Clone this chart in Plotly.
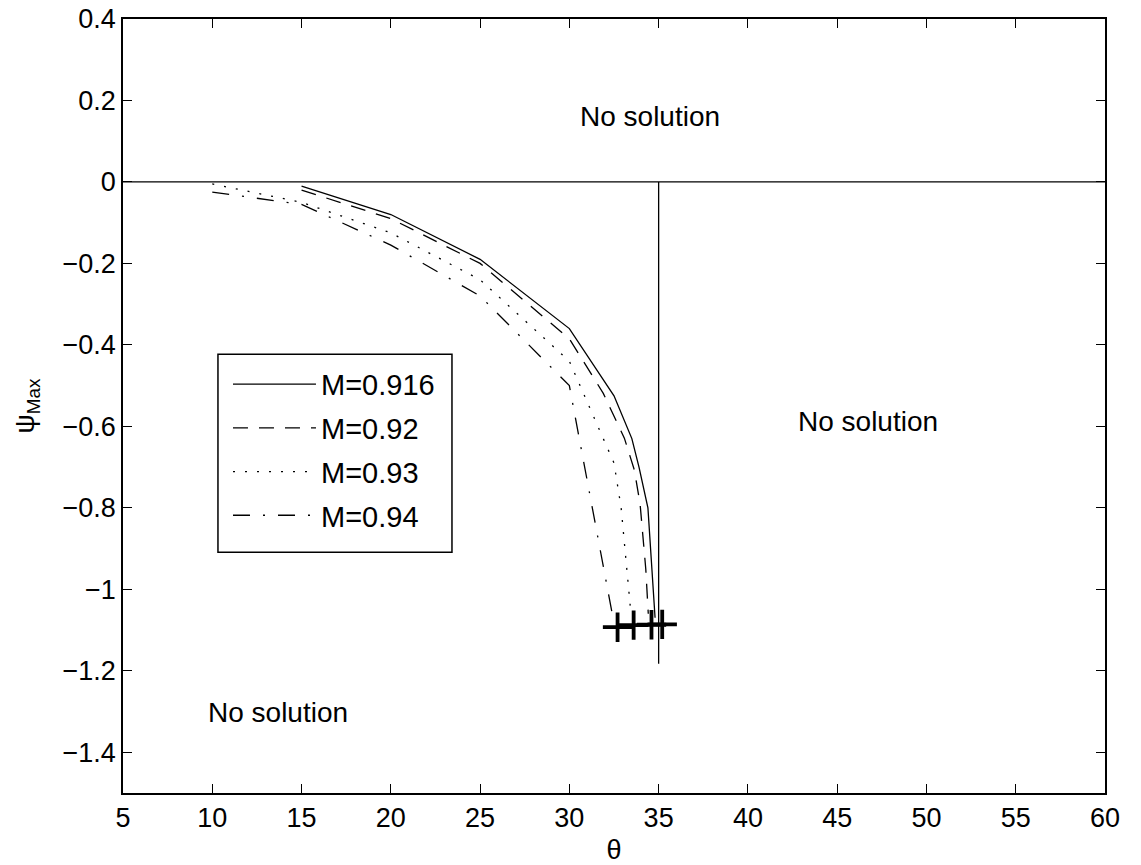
import plotly.graph_objects as go

# ---- data ----
theta_916 = [15, 20, 25, 30, 32.5, 33.5, 33.9, 34.4, 34.8]
psi_916 = [-0.01, -0.08, -0.19, -0.36, -0.525, -0.63, -0.70, -0.80, -1.07]

theta_92 = [15, 20, 25, 30, 31.9, 33.08, 33.64, 33.96, 34.28, 34.42]
psi_92 = [-0.02, -0.09, -0.20, -0.385, -0.519, -0.629, -0.707, -0.79, -0.95, -1.06]

theta_93 = [10, 15, 20, 25, 30, 32.5, 32.9, 33.45]
psi_93 = [-0.005, -0.05, -0.125, -0.24, -0.44, -0.69, -0.80, -1.06]

theta_94 = [10, 15, 20, 25, 30, 32.4]
psi_94 = [-0.025, -0.055, -0.155, -0.28, -0.50, -1.06]

end_theta = [32.7, 33.6, 34.6, 35.2]
end_psi = [-1.093, -1.088, -1.087, -1.086]

zero_theta = [5, 60]
zero_psi = [0, 0]
limit_theta = [35, 35]
limit_psi = [0, -1.183]

series_names = ["M=0.916", "M=0.92", "M=0.93", "M=0.94"]

x_ticks = [5, 10, 15, 20, 25, 30, 35, 40, 45, 50, 55, 60]
y_ticks = [0.4, 0.2, 0, -0.2, -0.4, -0.6, -0.8, -1, -1.2, -1.4]
y_ticktext = ["0.4", "0.2", "0", "\u22120.2", "\u22120.4", "\u22120.6", "\u22120.8", "\u22121", "\u22121.2", "\u22121.4"]

regions = [("No solution", 34.5, 0.16), ("No solution", 46.7, -0.587), ("No solution", 13.7, -1.303)]

FONT = "Liberation Sans, Arial, sans-serif"
fig = go.Figure()

fig.add_trace(go.Scatter(x=zero_theta, y=zero_psi, mode="lines", line=dict(color="black", width=1.3), showlegend=False, hoverinfo="skip"))
fig.add_trace(go.Scatter(x=limit_theta, y=limit_psi, mode="lines", line=dict(color="black", width=1.3), showlegend=False, hoverinfo="skip"))

styles = [("solid", theta_916, psi_916), ("15px,11px", theta_92, psi_92),
          ("2px,10px", theta_93, psi_93), ("17px,13px,2px,13px", theta_94, psi_94)]
for i, (dash, xs, ys) in enumerate(styles):
    fig.add_trace(go.Scatter(x=xs, y=ys, mode="lines", name=series_names[i],
                             legendgroup=f"g{i}",
                             line=dict(color="black", width=1.3, dash=dash)))

fig.add_trace(go.Scatter(x=end_theta, y=end_psi, mode="markers", showlegend=False,
                         marker=dict(symbol="cross-thin", size=21, color="black",
                                     line=dict(color="black", width=3.8))))

for txt, x, y in regions:
    fig.add_annotation(x=x, y=y, text=txt, showarrow=False, xanchor="center", yanchor="middle",
                       font=dict(size=28, color="black", family=FONT))

# legend frame
fig.add_shape(type="rect", xref="paper", yref="paper", x0=0.0967, x1=0.335, y0=0.311, y1=0.567,
              line=dict(color="black", width=1.5), fillcolor="white", layer="below")

axis_common = dict(showline=True, linecolor="black", linewidth=1.5, mirror="ticks",
                   ticks="inside", ticklen=9, tickwidth=1, tickcolor="black",
                   showgrid=False, zeroline=False, automargin=False,
                   tickfont=dict(size=27, color="black", family=FONT))

fig.update_xaxes(range=[5, 60], tickvals=x_ticks, ticktext=[str(v) for v in x_ticks],
                 title=dict(text="\u03b8", font=dict(size=27, color="black", family=FONT), standoff=12),
                 **axis_common)
fig.update_yaxes(range=[-1.5, 0.4], tickvals=y_ticks, ticktext=y_ticktext,
                 title=dict(text="\u03c8<sub>Max</sub>", font=dict(size=27, color="black", family=FONT), standoff=20),
                 **axis_common)

fig.update_layout(
    width=1141, height=865,
    margin=dict(l=123, r=36, t=19, b=72, autoexpand=False),
    plot_bgcolor="white", paper_bgcolor="white",
    font=dict(family=FONT, color="black"),
    legend=dict(x=0.1069, y=0.561, xanchor="left", yanchor="top",
                bgcolor="rgba(0,0,0,0)", borderwidth=0,
                font=dict(size=29, color="black", family=FONT),
                itemwidth=83, tracegroupgap=3, traceorder="grouped"),
)

fig.write_html("out.html")
